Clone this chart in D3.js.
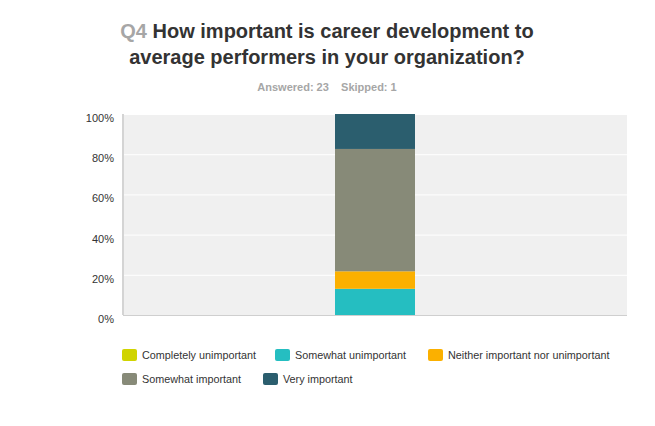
<!DOCTYPE html>
<html><head><meta charset="utf-8">
<script src="https://cdn.jsdelivr.net/npm/d3@7"></script>
<style>body{margin:0;background:#fff;}svg{display:block;font-family:"Liberation Sans",Arial,sans-serif;}</style>
</head><body>
<svg id="chart" width="655" height="426"></svg>
<script>
const categories = ["Q4"];
const seriesNames = ["Completely unimportant","Somewhat unimportant","Neither important nor unimportant","Somewhat important","Very important"];
const seriesValues = [0, 13.04, 8.70, 60.87, 17.39];
const seriesColors = ["#d0d400","#25bec1","#fbb000","#878a78","#2b5e6e"];
const yTicks = [0,20,40,60,80,100];

const svg = d3.select("#chart");
const m = {left:123, right:627, top:114, bottom:315};

// title
const t = svg.append("text").attr("text-anchor","middle").attr("font-weight","bold").attr("font-size",20).attr("fill","#333");
const l1 = t.append("tspan").attr("x",327).attr("y",38);
l1.append("tspan").attr("fill","#a6a6a6").text("Q4 ");
l1.append("tspan").text("How important is career development to");
t.append("tspan").attr("x",327).attr("y",64).text("average performers in your organization?");
svg.append("text").attr("x",327).attr("y",91).attr("text-anchor","middle").attr("font-weight","bold")
  .attr("font-size",11).attr("fill","#a6a6a6").attr("xml:space","preserve").text("Answered: 23    Skipped: 1");

const x = d3.scaleBand().domain(categories).range([m.left, m.right]).paddingInner(0).paddingOuter(0.42);
const y = d3.scaleLinear().domain([0,100]).range([m.bottom, m.top]);

svg.append("rect").attr("x",m.left).attr("y",m.top).attr("width",m.right-m.left).attr("height",m.bottom-m.top).attr("fill","#f0f0f0");
svg.append("g").selectAll("line").data(yTicks.filter(d=>d>0)).join("line")
  .attr("x1",m.left).attr("x2",m.right).attr("y1",d=>y(d)+0.5).attr("y2",d=>y(d)+0.5)
  .attr("stroke","#fff").attr("stroke-width",1);

const yAxis = svg.append("g").attr("transform",`translate(${m.left},0)`)
  .call(d3.axisLeft(y).tickValues(yTicks).tickFormat(d=>d+"%").tickSize(0).tickPadding(9));
yAxis.select(".domain").remove();
yAxis.selectAll("text").attr("font-size",11).attr("fill","#333").attr("font-family","Liberation Sans, Arial, sans-serif").attr("dy","0.32em").attr("transform","translate(0,4)");

// stacked bar
let cum = 0;
const segs = seriesValues.map((v,i)=>{const s={i, y0:cum, y1:cum+v}; cum+=v; return s;});
const bw = 80;
svg.append("g").selectAll("rect").data(segs.filter(s=>s.y1>s.y0)).join("rect")
  .attr("x", x("Q4") + x.bandwidth()/2 - bw/2).attr("width", bw)
  .attr("y", d=>y(Math.min(d.y1,100))).attr("height", d=>y(d.y0)-y(Math.min(d.y1,100)))
  .attr("fill", d=>seriesColors[d.i]);

svg.append("line").attr("x1",m.left).attr("x2",m.left).attr("y1",m.top).attr("y2",m.bottom).attr("stroke","#d4d4d4").attr("stroke-width",2);
svg.append("line").attr("x1",m.left).attr("x2",m.right).attr("y1",m.bottom+0.5).attr("y2",m.bottom+0.5).attr("stroke","#cfcfcf").attr("stroke-width",1);

// legend
const legPos = [[122,355],[275,355],[428,355],[122,379],[263,379]];
const lg = svg.append("g").selectAll("g").data(seriesNames).join("g")
  .attr("transform",(d,i)=>`translate(${legPos[i][0]},${legPos[i][1]})`);
lg.append("rect").attr("x",0).attr("y",-6).attr("width",15).attr("height",12).attr("rx",2).attr("fill",(d,i)=>seriesColors[i]);
lg.append("text").attr("x",20).attr("y",4).attr("font-size",10.8).attr("fill","#333").text(d=>d);
</script>
</body></html>
